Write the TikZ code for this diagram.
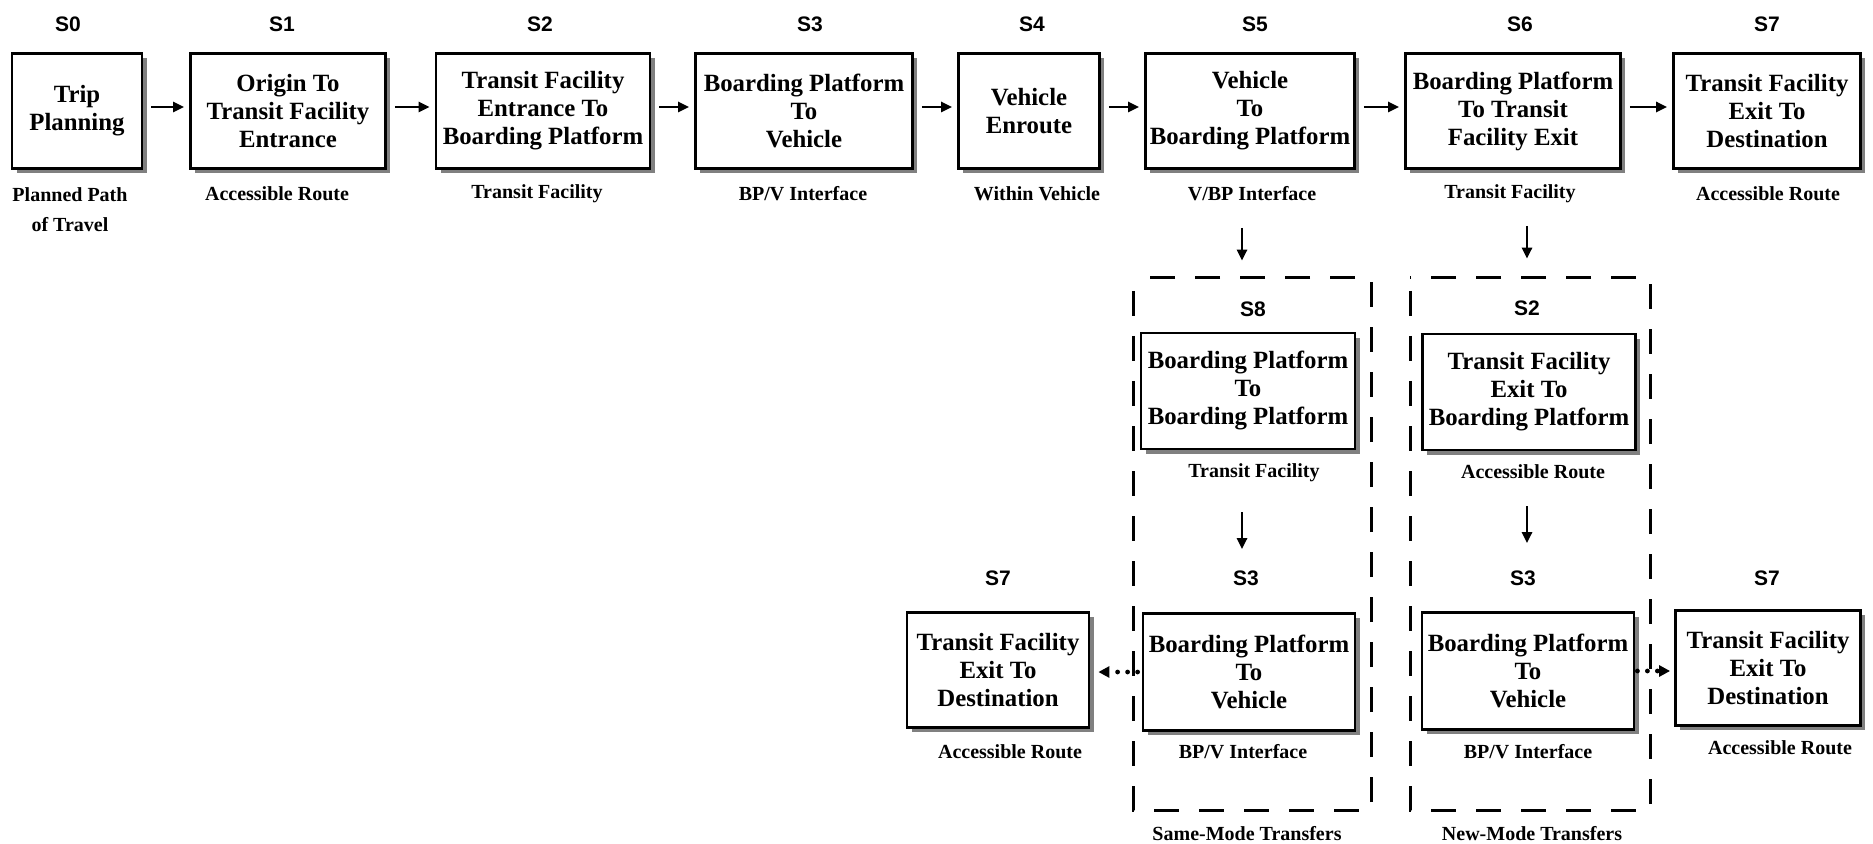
\documentclass[tikz,border=0pt]{standalone}
\usepackage{fontspec}
\setmainfont{Liberation Serif}
\newfontfamily\lsans{Liberation Sans}
\usetikzlibrary{arrows.meta,shadows}
\tikzset{
  stbox/.style={draw, line width=1.4pt, fill=white, align=center, inner sep=0pt,
    font=\bfseries\fontsize{12.4}{14}\selectfont,
    drop shadow={opacity=1, shadow xshift=2.4pt, shadow yshift=-2.4pt}},
  stlab/.style={font=\lsans\bfseries\fontsize{10.5}{12}\selectfont, inner sep=0pt},
  sublab/.style={font=\bfseries\fontsize{10}{15}\selectfont, align=center, inner sep=0pt},
  arr/.style={line width=1.4pt, -{Triangle[length=5.5pt,width=5pt]}},
  dotarr/.style={line width=2.4pt, dash pattern=on 0pt off 5pt, line cap=round,
    -{Triangle[length=5.5pt,width=5.5pt]}},
  dashbox/.style={line width=1.5pt, dash pattern=on 12.5pt off 10pt, dash phase=16pt},
}
\begin{document}
\begin{tikzpicture}[x=0.5pt, y=-0.5pt]
\useasboundingbox[fill=white] (0,0) rectangle (1873,844);

% ---- top row boxes ----
\node[stbox, minimum width=65pt, minimum height=57.5pt] (S0) at (77,111) {Trip\\Planning};
\node[stbox, minimum width=97.5pt, minimum height=57.5pt] (S1) at (288,111) {Origin To\\Transit Facility\\Entrance};
\node[stbox, minimum width=107pt, minimum height=57.5pt] (S2) at (543,111) {Transit Facility\\Entrance To\\Boarding Platform};
\node[stbox, minimum width=108.5pt, minimum height=57.5pt] (S3) at (804,111) {Boarding Platform\\To\\Vehicle};
\node[stbox, minimum width=70.5pt, minimum height=57.5pt] (S4) at (1029,111) {Vehicle\\Enroute};
\node[stbox, minimum width=104.5pt, minimum height=57.5pt] (S5) at (1250,111) {Vehicle\\To\\Boarding Platform};
\node[stbox, minimum width=107.5pt, minimum height=57.5pt] (S6) at (1513,111) {Boarding Platform\\To Transit\\Facility Exit};
\node[stbox, minimum width=93.5pt, minimum height=57.5pt] (S7) at (1767,111) {Transit Facility\\Exit To\\Destination};

% ---- top row state labels ----
\node[stlab] (L0) at (68,24) {S0};
\node[stlab] (L1) at (282,24) {S1};
\node[stlab] (L2) at (540,24) {S2};
\node[stlab] (L3) at (810,24) {S3};
\node[stlab] (L4) at (1032,24) {S4};
\node[stlab] (L5) at (1255,24) {S5};
\node[stlab] (L6) at (1520,24) {S6};
\node[stlab] (L7) at (1767,24) {S7};

% ---- top row sublabels ----
\node[sublab] (T0) at (70,210) {Planned Path\\of Travel};
\node[sublab] (T1) at (277,194) {Accessible Route};
\node[sublab] (T2) at (537,194) {Transit Facility};
\node[sublab] (T3) at (803,194) {BP/V Interface};
\node[sublab] (T4) at (1037,194) {Within Vehicle};
\node[sublab] (T5) at (1252,194) {V/BP Interface};
\node[sublab] (T6) at (1510,194) {Transit Facility};
\node[sublab] (T7) at (1768,194) {Accessible Route};

% ---- top row arrows ----
\foreach \a/\b in {S0/S1,S1/S2,S2/S3,S3/S4,S4/S5,S5/S6,S6/S7}{
  \draw[arr, shorten <=4pt, shorten >=2.5pt] ([yshift=2pt]\a.east) -- ([yshift=2pt]\a.east -| \b.west);
}

% ---- dashed transfer frames ----
\draw[dashbox] (1133,278) rectangle (1371,810);
\draw[dashbox] (1410,278) rectangle (1650,810);

% ---- lower boxes ----
\node[stbox, minimum width=107pt, minimum height=58pt] (S8) at (1248,391) {Boarding Platform\\To\\Boarding Platform};
\node[stbox, minimum width=106.5pt, minimum height=58pt] (S2b) at (1529,392) {Transit Facility\\Exit To\\Boarding Platform};
\node[stbox, minimum width=106pt, minimum height=58.5pt] (S3a) at (1249,672) {Boarding Platform\\To\\Vehicle};
\node[stbox, minimum width=106pt, minimum height=58.5pt] (S3b) at (1528,671) {Boarding Platform\\To\\Vehicle};
\node[stbox, minimum width=91pt, minimum height=57.5pt] (S7a) at (998,670) {Transit Facility\\Exit To\\Destination};
\node[stbox, minimum width=92.5pt, minimum height=57.5pt] (S7b) at (1768,668) {Transit Facility\\Exit To\\Destination};

% ---- lower state labels ----
\node[stlab] (L8) at (1253,309) {S8};
\node[stlab] (L2b) at (1527,308) {S2};
\node[stlab] (L3a) at (1246,578) {S3};
\node[stlab] (L3b) at (1523,578) {S3};
\node[stlab] (L7a) at (998,578) {S7};
\node[stlab] (L7b) at (1767,578) {S7};

% ---- lower sublabels ----
\node[sublab] (T8) at (1254,473) {Transit Facility};
\node[sublab] (T2b) at (1533,472) {Accessible Route};
\node[sublab] (T3a) at (1243,752) {BP/V Interface};
\node[sublab] (T3b) at (1528,752) {BP/V Interface};
\node[sublab] (T7a) at (1010,752) {Accessible Route};
\node[sublab] (T7b) at (1780,748) {Accessible Route};

% ---- frame captions ----
\node[sublab] (C1) at (1247,834) {Same-Mode Transfers};
\node[sublab] (C2) at (1532,834) {New-Mode Transfers};

% ---- vertical arrows ----
\draw[arr, shorten <=29pt, shorten >=35.5pt] ([xshift=-4pt]S5.south) -- ([xshift=-4pt]S5.south |- S8.north);
\draw[arr, shorten <=28pt, shorten >=37pt] ([xshift=-1pt]S2b.north |- S6.south) -- ([xshift=-1pt]S2b.north);
\draw[arr, shorten <=31pt, shorten >=31.5pt] ([xshift=-3pt]S8.south) -- ([xshift=-3pt]S8.south |- S3a.north);
\draw[arr, shorten <=27.5pt, shorten >=34pt] ([xshift=-1pt]S2b.south) -- ([xshift=-1pt]S2b.south |- S3b.north);

% ---- dotted arrows ----
\draw[dotarr, shorten <=2pt, shorten >=4pt] (S3a.west) -- (S3a.west -| S7a.east);
\draw[dotarr, shorten <=1pt, shorten >=2pt] (S3b.east) -- (S3b.east -| S7b.west);
\end{tikzpicture}
\end{document}
